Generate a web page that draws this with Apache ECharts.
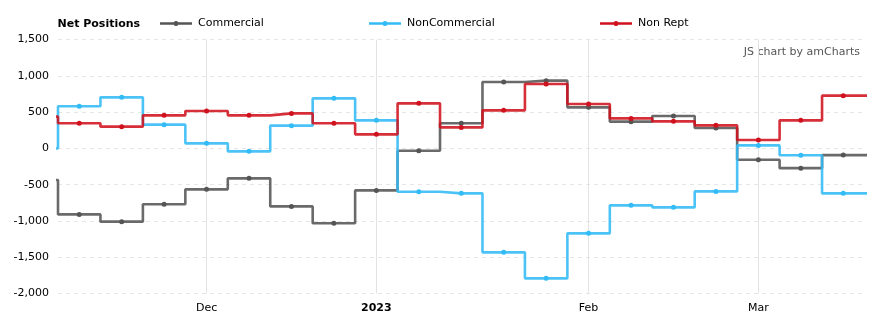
<!DOCTYPE html>
<html>
<head>
<meta charset="utf-8">
<script src="https://cdn.jsdelivr.net/npm/echarts@6/dist/echarts.min.js"></script>
<style>
html,body{margin:0;padding:0;background:#fff;}
#chart{width:877px;height:327px;}
</style>
</head>
<body>
<div id="chart"></div>
<script>
// Weekly report dates (Tuesdays); prevDate is the week before the visible window
const prevDate = '2022-11-08';
const dates = ['2022-11-15','2022-11-22','2022-11-29','2022-12-06','2022-12-13','2022-12-20','2022-12-27',
  '2023-01-03','2023-01-10','2023-01-17','2023-01-24','2023-01-31','2023-02-07','2023-02-14','2023-02-21',
  '2023-02-28','2023-03-07','2023-03-14','2023-03-21'];
const tickDates = ['2022-12-06','2023-01-03','2023-02-07','2023-03-07'];
const tickLabels = ['Dec','2023','Feb','Mar'];
const yTicks = [-2000,-1500,-1000,-500,0,500,1000,1500];

const commercialPrev = -436;
const commercial = [-910,-1010,-770,-565,-413,-800,-1033,-579,-32,345,915,933,565,368,446,281,-156,-273,-93];
const nonCommercialPrev = 0;
const nonCommercial = [580,703,327,69,-41,313,689,386,-598,-620,-1433,-1791,-1171,-785,-813,-593,41,-96,-620];
const nonReptPrev = 437;
const nonRept = [345,299,455,515,455,482,345,193,620,289,524,887,612,413,372,317,116,386,726];

const seriesNames = ['Commercial','NonCommercial','Non Rept'];
const seriesColors = ['#555555','#33bbf5','#d0121e'];
const seriesValues = [commercial, nonCommercial, nonRept];
const seriesPrev = [commercialPrev, nonCommercialPrev, nonReptPrev];

const FONT = 'DejaVu Sans';
const tickIdx = tickDates.map(d => dates.indexOf(d));

function stepData(prev, vals){
  const d = [[-1, prev]];
  vals.forEach((v,i)=>d.push([i, v]));
  d.push([vals.length, vals[vals.length-1]]);
  return d;
}

const series = [{
  type:'line', xAxisIndex:1, data:[], z:1, silent:true,
  markLine:{silent:true, symbol:'none', label:{show:false},
    lineStyle:{color:'#e3e3e3', type:'solid', width:1},
    data: tickIdx.map(i=>({xAxis:i}))}
}];
seriesNames.forEach((name,k)=>{
  series.push({
    name, type:'line', xAxisIndex:1, step:'middle', showSymbol:false, symbol:'none',
    data: stepData(seriesPrev[k], seriesValues[k]), z:2+k, clip:true,
    lineStyle:{color:seriesColors[k], width:2.6, opacity:0.88},
    itemStyle:{color:seriesColors[k]}, silent:true, animation:false
  });
});
seriesNames.forEach((name,k)=>{
  series.push({
    name, type:'scatter', xAxisIndex:1, symbol:'circle', symbolSize:5,
    data: seriesValues[k].map((v,i)=>[i,v]), z:5+k,
    itemStyle:{color:seriesColors[k], opacity:1}, animation:false
  });
});

const legendIcon = 'path://M0,1.7L32,1.7L32,4.3L0,4.3Z M13.5,3A2.5,2.5 0 1 1 18.5,3A2.5,2.5 0 1 1 13.5,3Z';
const legendLefts = [160, 369, 600];

const option = {
  animation:false,
  title:{text:'Net Positions', left:57.5, top:18.5, padding:0,
    textStyle:{fontFamily:FONT, fontSize:11, fontWeight:'bold', color:'#000'}},
  legend: seriesNames.map((n,k)=>({
    data:[n], left:legendLefts[k], top:18, padding:0, icon:legendIcon, itemWidth:32, itemHeight:6, itemGap:5,
    selectedMode:false,
    textStyle:{fontFamily:FONT, fontSize:11, color:'#000', padding:[0,0,0,1]}
  })),
  graphic:[{type:'text', right:17, top:47, style:{text:'JS chart by amCharts', fill:'#555',
    font:'11px "DejaVu Sans"'}}],
  grid:{left:58, right:12.5, top:39.5, bottom:33.5},
  xAxis:[{
    type:'category', data:dates, boundaryGap:true,
    axisLine:{show:false}, axisTick:{show:false}, splitLine:{show:false},
    axisLabel:{margin:9, interval:(i)=>tickIdx.includes(i),
      formatter:(v)=>{const j=tickDates.indexOf(v); if(j<0) return ''; return tickLabels[j]==='2023'?'{b|2023}':tickLabels[j];},
      fontFamily:FONT, fontSize:11, color:'#000',
      rich:{b:{fontFamily:FONT, fontSize:11, fontWeight:'bold', color:'#000'}}}
  },{
    type:'value', min:-0.5, max:dates.length-0.5, show:false
  }],
  yAxis:{
    type:'value', min:yTicks[0], max:yTicks[yTicks.length-1], interval:500,
    axisLine:{show:false}, axisTick:{show:false},
    axisLabel:{margin:9, fontFamily:FONT, fontSize:11, color:'#000',
      formatter:(v)=>v.toLocaleString('en-US')},
    splitLine:{lineStyle:{color:'#e6e6e6', type:[4,4], width:1}}
  },
  series
};
const chart = echarts.init(document.getElementById('chart'), null, {renderer:'canvas'});
chart.setOption(option);
</script>
</body>
</html>
